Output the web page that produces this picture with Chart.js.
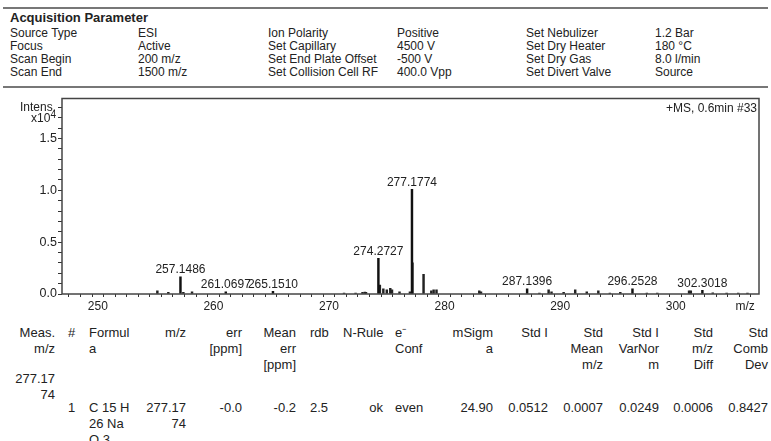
<!DOCTYPE html>
<html>
<head>
<meta charset="utf-8">
<script src="https://cdn.jsdelivr.net/npm/chart.js@4.4.1/dist/chart.umd.min.js"></script>
<style>
  body { margin: 0; width: 771px; height: 441px; background: #fff; overflow: hidden;
         font-family: "Liberation Sans", Arial, sans-serif; color: #222; }
  .abs { position: absolute; white-space: nowrap; }
  .rule { position: absolute; left: 3px; width: 765px; height: 2px; background: #777; }
  .params { font-size: 12px; line-height: 13px; }
  .tbl { font-size: 13px; line-height: 16px; }
  .r { text-align: right; }
  #spec { position: absolute; left: 0; top: 90px; }
</style>
</head>
<body>

<div class="rule" style="top:7px"></div>
<div class="abs" style="left:10px; top:10px; font-size:13px; font-weight:bold">Acquisition Parameter</div>
<div class="abs params" style="left:10px; top:27px">Source Type<br>Focus<br>Scan Begin<br>Scan End</div>
<div class="abs params" style="left:138px; top:27px">ESI<br>Active<br>200 m/z<br>1500 m/z</div>
<div class="abs params" style="left:268px; top:27px">Ion Polarity<br>Set Capillary<br>Set End Plate Offset<br>Set Collision Cell RF</div>
<div class="abs params" style="left:397px; top:27px">Positive<br>4500 V<br>-500 V<br>400.0 Vpp</div>
<div class="abs params" style="left:526px; top:27px">Set Nebulizer<br>Set Dry Heater<br>Set Dry Gas<br>Set Divert Valve</div>
<div class="abs params" style="left:655px; top:27px">1.2 Bar<br>180 °C<br>8.0 l/min<br>Source</div>
<div class="rule" style="top:86px"></div>

<canvas id="spec" width="771" height="226"></canvas>

<!-- result table -->
<div class="abs tbl r" style="right:716px; top:325px">Meas.<br>m/z</div>
<div class="abs tbl" style="left:68px; top:325px">#</div>
<div class="abs tbl" style="left:89px; top:325px">Formul<br>a</div>
<div class="abs tbl r" style="right:585px; top:325px">m/z</div>
<div class="abs tbl r" style="right:529px; top:325px">err<br>[ppm]</div>
<div class="abs tbl r" style="right:475px; top:325px">Mean<br>err<br>[ppm]</div>
<div class="abs tbl" style="left:310px; top:325px">rdb</div>
<div class="abs tbl" style="left:343px; top:325px">N-Rule</div>
<div class="abs tbl" style="left:395px; top:325px">e⁻<br>Conf</div>
<div class="abs tbl r" style="right:278px; top:325px">mSigm<br>a</div>
<div class="abs tbl r" style="right:223px; top:325px">Std I</div>
<div class="abs tbl r" style="right:168px; top:325px">Std<br>Mean<br>m/z</div>
<div class="abs tbl r" style="right:112px; top:325px">Std I<br>VarNor<br>m</div>
<div class="abs tbl r" style="right:58px; top:325px">Std<br>m/z<br>Diff</div>
<div class="abs tbl r" style="right:3px; top:325px">Std<br>Comb<br>Dev</div>

<div class="abs tbl r" style="right:716px; top:371px">277.17<br>74</div>

<div class="abs tbl" style="left:68px; top:400px">1</div>
<div class="abs tbl" style="left:89px; top:400px">C 15 H<br>26 Na<br>O 3</div>
<div class="abs tbl r" style="right:585px; top:400px">277.17<br>74</div>
<div class="abs tbl r" style="right:529px; top:400px">-0.0</div>
<div class="abs tbl r" style="right:475px; top:400px">-0.2</div>
<div class="abs tbl" style="left:310px; top:400px">2.5</div>
<div class="abs tbl r" style="right:388px; top:400px">ok</div>
<div class="abs tbl" style="left:395px; top:400px">even</div>
<div class="abs tbl r" style="right:278px; top:400px">24.90</div>
<div class="abs tbl r" style="right:223px; top:400px">0.0512</div>
<div class="abs tbl r" style="right:168px; top:400px">0.0007</div>
<div class="abs tbl r" style="right:112px; top:400px">0.0249</div>
<div class="abs tbl r" style="right:58px; top:400px">0.0006</div>
<div class="abs tbl r" style="right:3px; top:400px">0.8427</div>

<script>
// labelled peaks (m/z, intensity x10^4)
var peakMz = [257.1486, 261.0697, 265.1510, 274.2727, 277.1774, 287.1396, 296.2528, 302.3018];
var peakInt = [0.165, 0.022, 0.025, 0.345, 1.01, 0.05, 0.05, 0.035];

// unlabelled small peaks
var minorMz = [255.15, 256.1, 257.4, 258.15, 271.3, 272.3, 272.9, 273.1, 273.2, 274.4, 274.7, 275.0,
  275.3, 275.45, 276.1, 277.0, 277.22, 278.18, 278.85, 279.05, 279.3, 283.0, 283.15, 288.2, 289.0,
  289.25, 290.3, 291.3, 292.3, 293.3, 294.3, 295.2, 297.5, 298.4, 301.15, 301.3, 303.2, 304.4,
  305.4, 306.2];
var minorInt = [0.03, 0.015, 0.015, 0.02, 0.01, 0.01, 0.015, 0.018, 0.015, 0.085, 0.05, 0.04,
  0.055, 0.04, 0.02, 0.02, 0.3, 0.19, 0.03, 0.04, 0.04, 0.03, 0.02, 0.01, 0.04,
  0.02, 0.015, 0.04, 0.02, 0.03, 0.01, 0.015, 0.01, 0.01, 0.03, 0.03, 0.012, 0.01,
  0.01, 0.01];

var xMin = 246.9, xMax = 307.2;
var yMax = 1.886;
var FONT = '"Liberation Sans", Arial, sans-serif';

function toPoints(xs, ys) {
  return xs.map(function(x, i) { return { x: x, y: ys[i] }; });
}

// box around the plot, axis title on the y ticks, scan info top right
const framePlugin = {
  id: 'frame',
  afterDraw(chart) {
    const ctx = chart.ctx, a = chart.chartArea;
    const yScale = chart.scales.y;
    ctx.save();
    ctx.strokeStyle = '#444';
    ctx.lineWidth = 1.5;
    ctx.strokeRect(a.left, a.top, a.right - a.left, a.bottom - a.top);
    ctx.fillStyle = '#222';
    ctx.textBaseline = 'middle';
    ctx.textAlign = 'right';
    ctx.font = '12px ' + FONT;
    ctx.fillText('+MS, 0.6min #33', a.right - 2, a.top + 10);

    var lx = a.left - 6;
    ctx.fillText('Intens.', lx, yScale.getPixelForValue(1.8));
    var y17 = yScale.getPixelForValue(1.7);
    ctx.font = '10px ' + FONT;
    ctx.fillText('4', lx, y17 - 3);
    var w4 = ctx.measureText('4').width;
    ctx.font = '12px ' + FONT;
    ctx.fillText('x10', lx - w4, y17 + 1);
    ctx.restore();
  }
};

const peakLabelPlugin = {
  id: 'peakLabels',
  afterDatasetsDraw(chart) {
    const ctx = chart.ctx;
    const meta = chart.getDatasetMeta(0);
    ctx.save();
    ctx.font = '12px ' + FONT;
    ctx.fillStyle = '#222';
    ctx.textAlign = 'center';
    ctx.textBaseline = 'bottom';
    meta.data.forEach(function(bar, i) {
      ctx.fillText(peakMz[i].toFixed(4), bar.x, bar.y - 1);
    });
    ctx.restore();
  }
};

new Chart(document.getElementById('spec'), {
  type: 'bar',
  data: {
    datasets: [{
      data: toPoints(peakMz, peakInt),
      backgroundColor: '#111',
      barThickness: 1.8
    }, {
      data: toPoints(minorMz, minorInt),
      backgroundColor: '#222',
      barThickness: 1.8
    }]
  },
  options: {
    responsive: false,
    animation: false,
    devicePixelRatio: 1,
    grouped: false,
    layout: { padding: { top: 6, right: 12, left: 0, bottom: 0 } },
    plugins: { legend: { display: false }, tooltip: { enabled: false } },
    scales: {
      x: {
        type: 'linear',
        min: xMin,
        max: xMax,
        offset: false,
        border: { display: false },
        grid: { drawOnChartArea: false, tickLength: 3, color: '#333', tickWidth: 1 },
        afterFit: function(scale) { scale.height = 22; },
        ticks: {
          stepSize: 1,
          includeBounds: false,
          autoSkip: false,
          maxRotation: 0,
          padding: 2,
          color: '#222',
          font: { family: FONT, size: 12 },
          callback: function(v) {
            var n = Math.round(v);
            if (n === 306) return 'm/z';
            return n % 10 === 0 ? String(n) : '';
          }
        }
      },
      y: {
        min: 0,
        max: yMax,
        border: { display: false },
        grid: { drawOnChartArea: false, tickLength: 4, color: '#333', tickWidth: 1 },
        afterFit: function(scale) { scale.width = 62; },
        ticks: {
          stepSize: 0.1,
          includeBounds: false,
          autoSkip: false,
          padding: 1,
          color: '#222',
          font: { family: FONT, size: 12.5 },
          callback: function(v) {
            var n = Math.round(v * 10);
            return n % 5 === 0 ? (n / 10).toFixed(1) : '';
          }
        }
      }
    }
  },
  plugins: [framePlugin, peakLabelPlugin]
});
</script>
</body>
</html>
